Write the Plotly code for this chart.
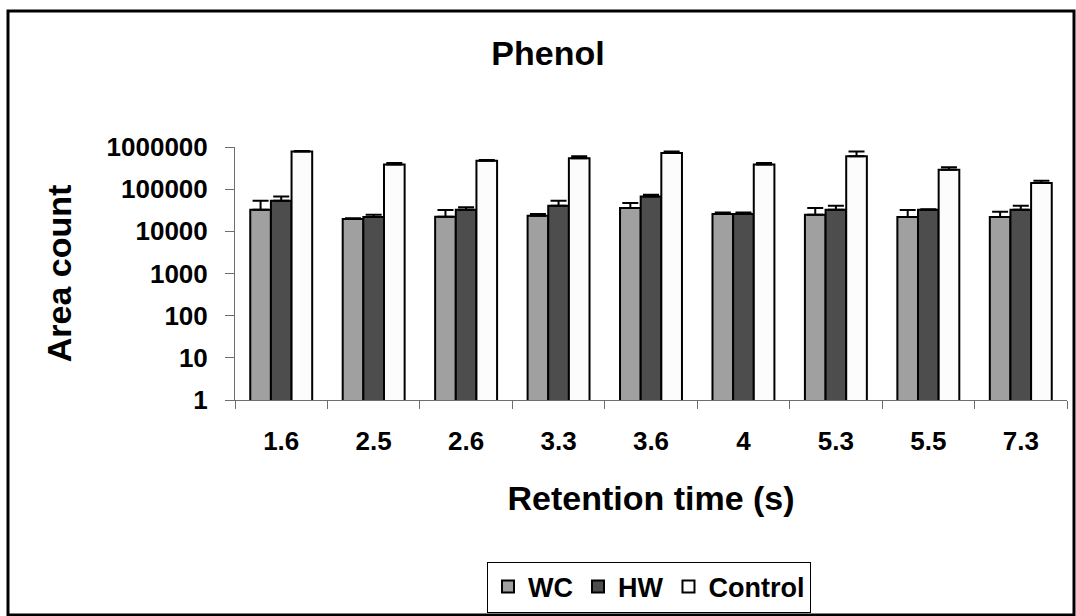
import plotly.graph_objects as go

# Retention times (s) on the category axis
retention = ["1.6", "2.5", "2.6", "3.3", "3.6", "4", "5.3", "5.5", "7.3"]

# Mean area counts per treatment
wc = [32600, 19600, 22200, 23500, 35700, 25800, 24800, 21900, 21900]
hw = [53300, 21900, 32600, 40600, 67400, 25800, 32600, 32600, 32600]
control = [778000, 382000, 475000, 539000, 725000, 382000, 602000, 290000, 140000]

# Upper error (plus direction only)
wc_err = [20700, 800, 9900, 2300, 11300, 2300, 10900, 10200, 7300]
hw_err = [14000, 2900, 4400, 12700, 6600, 2300, 8000, 1000, 8000]
control_err = [30000, 37000, 15000, 63000, 53000, 37000, 176000, 39000, 19000]

series = [
    ("WC", wc, wc_err, "#a0a0a0"),
    ("HW", hw, hw_err, "#4d4d4d"),
    ("Control", control, control_err, "#fcfcfc"),
]

FONT = "Liberation Sans, Arial, sans-serif"

fig = go.Figure()
for name, vals, err, color in series:
    fig.add_trace(go.Bar(
        name=name,
        x=retention,
        y=vals,
        marker=dict(color=color, line=dict(color="black", width=2)),
        error_y=dict(type="data", array=err, arrayminus=[0] * len(err),
                     symmetric=False, color="black", thickness=2, width=8),
    ))

fig.update_layout(
    width=1076,
    height=616,
    margin=dict(l=235, r=9, t=147, b=216),
    paper_bgcolor="white",
    plot_bgcolor="white",
    barmode="group",
    bargap=0.33,
    bargroupgap=0,
    font=dict(family=FONT, color="black", weight="bold"),
    title=dict(text="Phenol", x=548 / 1076, xanchor="center",
               y=1 - 53 / 616, yanchor="middle",
               font=dict(size=34, family=FONT, weight="bold")),
    xaxis=dict(
        type="category",
        showline=True, linecolor="#6e6e6e", linewidth=1,
        ticks="outside", tickson="boundaries", ticklen=8, tickcolor="#6e6e6e",
        tickfont=dict(size=26, family=FONT, weight="bold"),
        ticklabelstandoff=18,
        showgrid=False, zeroline=False,
        title=dict(text="Retention time (s)", standoff=30,
                   font=dict(size=34, family=FONT, weight="bold")),
    ),
    yaxis=dict(
        type="log",
        range=[0, 6],
        tickvals=[1, 10, 100, 1000, 10000, 100000, 1000000],
        ticktext=["1", "10", "100", "1000", "10000", "100000", "1000000"],
        showline=True, linecolor="#6e6e6e", linewidth=1,
        ticks="outside", ticklen=9, tickcolor="#6e6e6e",
        tickfont=dict(size=26, family=FONT, weight="bold"),
        ticklabelstandoff=12,
        showgrid=False, zeroline=False,
        title=dict(text="Area count", standoff=24,
                   font=dict(size=34, family=FONT, weight="bold")),
    ),
    legend=dict(
        orientation="h",
        x=649 / 1076, xref="container", xanchor="center",
        y=1 - 587 / 616, yref="container", yanchor="middle",
        bordercolor="black", borderwidth=1,
        font=dict(size=27, family=FONT, weight="bold"),
        itemwidth=30,
        traceorder="normal",
    ),
)

# Outer chart frame
fig.add_shape(type="rect", xref="paper", yref="paper",
              x0=(8 - 235) / 832, x1=(1074 - 235) / 832,
              y0=(400 - 615) / 253, y1=(400 - 11) / 253,
              line=dict(color="black", width=3), fillcolor="rgba(0,0,0,0)",
              layer="below")

fig.write_html("out.html")
